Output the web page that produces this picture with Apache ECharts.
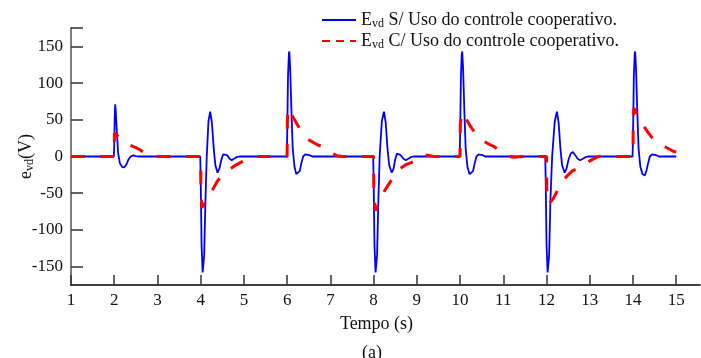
<!DOCTYPE html>
<html>
<head>
<meta charset="utf-8">
<script src="https://cdn.jsdelivr.net/npm/echarts@6/dist/echarts.min.js"></script>
<style>
  html, body { margin: 0; padding: 0; background: #fff; }
  #chart { width: 701px; height: 358px; }
</style>
</head>
<body>
<div id="chart"></div>
<script>
// e_vd (V) versus time (s): without (S/) and with (C/) cooperative control
const yTicks = [-150, -100, -50, 0, 50, 100, 150];
const xTicks = [1, 2, 3, 4, 5, 6, 7, 8, 9, 10, 11, 12, 13, 14, 15];

const seriesNames = [
  'E_vd S/ Uso do controle cooperativo.',
  'E_vd C/ Uso do controle cooperativo.'
];

// [time, e_vd] without cooperative control
const evdSemCoop = [
  [1, 0], [1.99, 0],
  [2.0, 15], [2.01, 50], [2.022, 71], [2.035, 62], [2.06, 35], [2.09, 5], [2.13, -9],
  [2.18, -14], [2.23, -15], [2.28, -11], [2.33, -4], [2.38, 0], [2.44, 1.5], [2.5, 0.5], [2.58, 0],
  [3.99, 0],
  [4.0, -30], [4.02, -120], [4.045, -158], [4.06, -160], [4.08, -135], [4.11, -60], [4.14, 0],
  [4.18, 48], [4.22, 61], [4.26, 46], [4.3, 12], [4.34, -12], [4.39, -22], [4.43, -17],
  [4.48, -4], [4.52, 3], [4.56, 5], [4.61, 2], [4.67, -3], [4.72, -5], [4.77, -3], [4.83, -1], [4.9, 0],
  [5.99, 0],
  [6.0, 25], [6.02, 110], [6.04, 140], [6.05, 143], [6.07, 120], [6.1, 60], [6.13, 10],
  [6.17, -14], [6.21, -24], [6.25, -26], [6.29, -20], [6.33, -9], [6.37, 0], [6.42, 3],
  [6.46, 4], [6.51, 2], [6.58, 0],
  [7.99, 0],
  [8.0, -30], [8.02, -120], [8.045, -158], [8.06, -160], [8.08, -135], [8.11, -60], [8.14, 0],
  [8.19, 48], [8.24, 61], [8.28, 46], [8.32, 12], [8.36, -12], [8.42, -22], [8.46, -17],
  [8.5, -4], [8.54, 4], [8.57, 6], [8.62, 2], [8.69, -3], [8.75, -5], [8.8, -3], [8.86, -1], [8.92, 0],
  [9.99, 0],
  [10.0, 25], [10.02, 110], [10.04, 140], [10.05, 143], [10.07, 120], [10.1, 60], [10.13, 10],
  [10.17, -14], [10.22, -24], [10.26, -26], [10.3, -20], [10.34, -9], [10.38, 0], [10.43, 3],
  [10.47, 4], [10.52, 2], [10.58, 0],
  [11.97, 0],
  [11.98, -30], [12.0, -120], [12.025, -158], [12.04, -160], [12.06, -135], [12.09, -60], [12.13, 0],
  [12.19, 48], [12.24, 61], [12.28, 46], [12.32, 12], [12.36, -12], [12.42, -22], [12.46, -17],
  [12.51, -4], [12.56, 4], [12.61, 6], [12.66, 2], [12.72, -3], [12.78, -5], [12.84, -3], [12.9, -1], [12.96, 0],
  [13.99, 0],
  [14.0, 25], [14.02, 110], [14.04, 140], [14.05, 143], [14.07, 120], [14.1, 60], [14.13, 10],
  [14.17, -14], [14.22, -24], [14.27, -26], [14.31, -20], [14.35, -9], [14.39, 0], [14.44, 3],
  [14.48, 4], [14.53, 2], [14.6, 0], [15, 0]
];

// [time, e_vd] with cooperative control
const evdComCoop = [
  [1, 0], [2, 0],
  [2.005, 32], [2.1, 27], [2.22, 21], [2.35, 16], [2.5, 12], [2.6, 9], [2.7, 5], [2.8, 2], [2.9, 0],
  [4, 0],
  [4.005, -50], [4.03, -70], [4.1, -62], [4.19, -55], [4.28, -45], [4.38, -34], [4.5, -25],
  [4.66, -18], [4.8, -12], [4.96, -7], [5.1, -3], [5.3, 0],
  [6, 0],
  [6.005, 50], [6.03, 66], [6.15, 52], [6.3, 37], [6.4, 29], [6.52, 22], [6.7, 16], [6.88, 12],
  [7.0, 6], [7.15, 1], [7.3, 0],
  [8, 0],
  [8.005, -55], [8.05, -74], [8.15, -58], [8.25, -47], [8.37, -36], [8.48, -26], [8.6, -17],
  [8.75, -11], [8.92, -7], [9.05, 0], [9.2, 2], [9.4, 0],
  [10, 0],
  [10.005, 44], [10.05, 60], [10.15, 50], [10.25, 40], [10.38, 30], [10.52, 22], [10.66, 17],
  [10.8, 13], [10.95, 6], [11.14, 0], [11.25, -1], [11.43, 0],
  [12, 0],
  [12.005, -45], [12.04, -65], [12.15, -58], [12.32, -39], [12.45, -28], [12.59, -20],
  [12.72, -16], [12.86, -13], [13.0, -6], [13.2, 0], [13.35, 1], [13.5, 0],
  [14, 0],
  [14.005, 45], [14.02, 66], [14.12, 55], [14.22, 44], [14.33, 34], [14.45, 25], [14.6, 18],
  [14.75, 13], [14.92, 7.5], [15, 6]
];

const serif = '"Liberation Serif", "Times New Roman", serif';

const richEvd = {
  m: { fontFamily: serif, fontSize: 18, color: '#111', lineHeight: 18 },
  s: { fontFamily: serif, fontSize: 12, color: '#111', lineHeight: 10, padding: [8, 0, 0, 0] }
};

const chart = echarts.init(document.getElementById('chart'), null, { renderer: 'canvas' });

chart.setOption({
  animation: false,
  backgroundColor: '#ffffff',
  textStyle: { fontFamily: serif },
  grid: { left: 71, right: 1, top: 28, bottom: 73, containLabel: false, outerBoundsMode: 'none' },
  title: {
    text: '(a)',
    left: 357,
    top: 339,
    textStyle: { fontFamily: serif, fontSize: 18, fontWeight: 'normal', color: '#111' }
  },
  legend: {
    orient: 'vertical',
    left: 316,
    top: 5,
    itemWidth: 34,
    itemHeight: 12,
    itemGap: 1,
    itemStyle: { opacity: 0 },
    data: [
      { name: seriesNames[0] },
      { name: seriesNames[1], lineStyle: { type: [8, 6] } }
    ],
    formatter: function (name) {
      const rest = name.replace('E_vd', '');
      return '{m|E}{s|vd}{m|' + rest + '}';
    },
    textStyle: { rich: richEvd }
  },
  xAxis: {
    type: 'value',
    min: 1,
    max: 15.55,
    name: 'Tempo (s)',
    nameLocation: 'middle',
    nameGap: 30,
    nameMoveOverlap: false,
    nameTextStyle: { fontFamily: serif, fontSize: 18, color: '#111', padding: [0, 18, 0, 0] },
    axisLine: { show: true, onZero: false, lineStyle: { color: '#000', width: 1.5 } },
    axisTick: { show: true, inside: true, length: 10, customValues: xTicks, lineStyle: { color: '#333', width: 1.5 } },
    axisLabel: { customValues: xTicks, margin: 7, fontFamily: serif, fontSize: 17, color: '#111' },
    splitLine: { show: false }
  },
  yAxis: {
    type: 'value',
    min: -175,
    max: 175,
    name: '{m|e}{s|vd}{m|(V)}',
    nameLocation: 'middle',
    nameRotate: 90,
    nameGap: 36,
    nameMoveOverlap: false,
    nameTextStyle: { rich: richEvd },
    axisLine: { show: true, onZero: false, lineStyle: { color: '#7f7f7f', width: 2 } },
    axisTick: { show: true, inside: true, length: 12, customValues: yTicks.concat([175]), lineStyle: { color: '#333', width: 1.5 } },
    axisLabel: { customValues: yTicks, margin: 8, fontFamily: serif, fontSize: 17, color: '#111' },
    splitLine: { show: false }
  },
  series: [
    {
      name: seriesNames[0],
      type: 'line',
      data: evdSemCoop,
      showSymbol: false,
      symbol: 'none',
      lineStyle: { color: '#0000ff', width: 1.8 },
      itemStyle: { color: '#0000ff' },
      z: 2
    },
    {
      name: seriesNames[1],
      type: 'line',
      data: evdComCoop,
      showSymbol: false,
      symbol: 'none',
      lineStyle: { color: '#ff0000', width: 3, type: [14, 15] },
      itemStyle: { color: '#ff0000' },
      z: 3
    }
  ]
});
</script>
</body>
</html>
